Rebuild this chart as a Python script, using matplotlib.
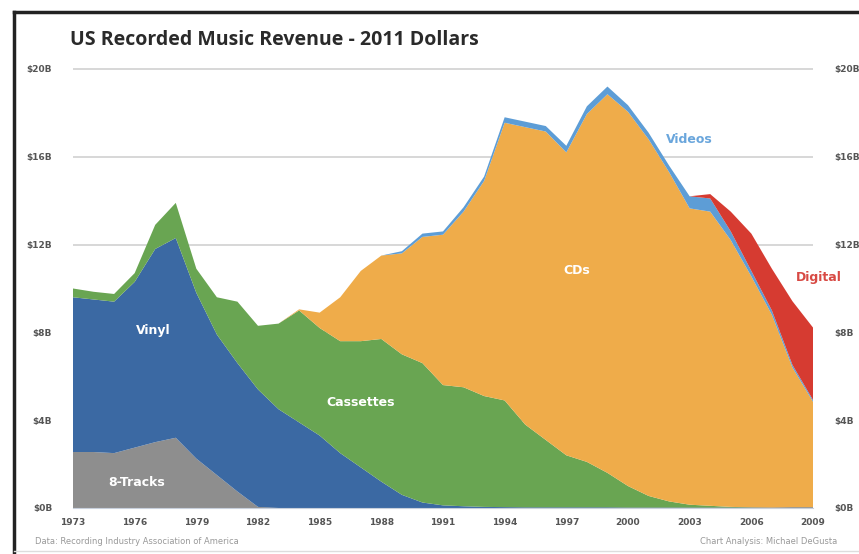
import numpy as np
import matplotlib.pyplot as plt
from matplotlib.lines import Line2D

# Dados (bilhões de dólares de 2011)
years = list(range(1973, 2010))

eight_track = [2.55, 2.55, 2.5, 2.75, 3.0, 3.2, 2.25, 1.5, 0.75, 0.05,
               0, 0, 0, 0, 0, 0, 0, 0, 0, 0, 0, 0, 0, 0, 0, 0, 0, 0,
               0, 0, 0, 0, 0, 0, 0, 0, 0]
vinyl = [7.05, 6.95, 6.9, 7.55, 8.8, 9.1, 7.55, 6.4, 5.85, 5.35,
         4.5, 3.9, 3.3, 2.5, 1.85, 1.2, 0.6, 0.25, 0.12, 0.08, 0.05,
         0.04, 0.03, 0.03, 0.03, 0.03, 0.03, 0.02, 0.02, 0.02, 0.02,
         0.02, 0.02, 0.02, 0.02, 0.03, 0.03]
cassettes = [0.4, 0.35, 0.35, 0.4, 1.1, 1.6, 1.1, 1.7, 2.8, 2.9,
             3.9, 5.1, 4.9, 5.1, 5.75, 6.5, 6.4, 6.35, 5.48, 5.42, 5.05,
             4.86, 3.77, 3.07, 2.37, 2.07, 1.57, 0.98, 0.53, 0.28, 0.13,
             0.08, 0.03, 0.01, 0, 0, 0]
cds = [0, 0, 0, 0, 0, 0, 0, 0, 0, 0,
       0, 0.05, 0.7, 2.0, 3.2, 3.8, 4.6, 5.75, 6.85, 8.0, 9.8,
       12.65, 13.55, 14.05, 13.8, 15.85, 17.25, 17.05, 16.25, 15.0, 13.5,
       13.4, 12.15, 10.52, 8.78, 6.37, 4.81]
videos = [0, 0, 0, 0, 0, 0, 0, 0, 0, 0,
          0, 0, 0, 0, 0, 0, 0.1, 0.15, 0.15, 0.2, 0.2,
          0.25, 0.25, 0.25, 0.3, 0.35, 0.35, 0.3, 0.3, 0.3, 0.55,
          0.6, 0.4, 0.25, 0.2, 0.12, 0.08]
digital = [0, 0, 0, 0, 0, 0, 0, 0, 0, 0,
           0, 0, 0, 0, 0, 0, 0, 0, 0, 0, 0,
           0, 0, 0, 0, 0, 0, 0, 0, 0, 0,
           0.2, 0.9, 1.7, 1.9, 2.9, 3.3]

yticks = [0, 4, 8, 12, 16, 20]
ytick_labels = ['$0B', '$4B', '$8B', '$12B', '$16B', '$20B']
xticks = list(range(1973, 2010, 3))

colors = ['#8e8e8e', '#3b69a3', '#69a552', '#efac4a', '#5d9dd6', '#d63b31']

fig = plt.figure(figsize=(8.59, 5.54), dpi=100)
ax = fig.add_axes([73 / 859, 46 / 554, 740 / 859, 450 / 554])

ax.stackplot(years, eight_track, vinyl, cassettes, cds, videos, digital,
             colors=colors, linewidth=0)

ax.set_xlim(1973, 2009)
ax.set_ylim(0, 20.5)
ax.set_yticks(yticks)
ax.set_yticklabels(ytick_labels)
ax.set_xticks(xticks)
ax.set_xticklabels([str(x) for x in xticks])
ax.grid(axis='y', color='#d4d4d4', linewidth=1.3)
ax.set_axisbelow(True)
ax.tick_params(length=0, labelsize=6.5, labelcolor='#555555')
ax.tick_params(axis='y', pad=15)
ax.tick_params(axis='x', pad=7)
for lbl in ax.get_xticklabels() + ax.get_yticklabels():
    lbl.set_fontweight('bold')
for s in ['top', 'right', 'left']:
    ax.spines[s].set_visible(False)
ax.spines['bottom'].set_color('#c8d0dc')

ax2 = ax.twinx()
ax2.set_ylim(0, 20.5)
ax2.set_yticks(yticks)
ax2.set_yticklabels(ytick_labels)
ax2.tick_params(length=0, labelsize=6.5, labelcolor='#555555', pad=15)
for lbl in ax2.get_yticklabels():
    lbl.set_fontweight('bold')
for s in ax2.spines.values():
    s.set_visible(False)

# Rótulos das áreas
lab = dict(color='white', fontsize=9, fontweight='bold', ha='center', va='center')
ax.text(1976.1, 1.15, '8-Tracks', **lab)
ax.text(1976.9, 8.1, 'Vinyl', **lab)
ax.text(1987.0, 4.8, 'Cassettes', **lab)
ax.text(1997.5, 10.8, 'CDs', **lab)
ax.text(2003.0, 16.8, 'Videos', color='#6aa6dc', fontsize=9, fontweight='bold',
        ha='center', va='center')
ax.text(2009.3, 10.5, 'Digital', color='#d84a44', fontsize=9, fontweight='bold',
        ha='center', va='center', clip_on=False)

fig.text(70 / 859, 1 - 40 / 554, 'US Recorded Music Revenue - 2011 Dollars',
         fontsize=14, fontweight='bold', color='#2a2a2a', va='center',
         family='Open Sans')
fig.text(35 / 859, 1 - 541 / 554, 'Data: Recording Industry Association of America',
         fontsize=6, color='#999999', va='center')
fig.text(837 / 859, 1 - 541 / 554, 'Chart Analysis: Michael DeGusta',
         fontsize=6, color='#999999', va='center', ha='right')

# Moldura
fig.add_artist(Line2D([14 / 859, 14 / 859], [0, 1 - 12 / 554], color='#222222',
                      linewidth=2.5, transform=fig.transFigure))
fig.add_artist(Line2D([14 / 859, 1], [1 - 12 / 554, 1 - 12 / 554], color='#222222',
                      linewidth=2.5, transform=fig.transFigure))
fig.add_artist(Line2D([14 / 859, 1], [3 / 554, 3 / 554], color='#dddddd',
                      linewidth=1, transform=fig.transFigure))

plt.savefig('out.png', dpi=100)
